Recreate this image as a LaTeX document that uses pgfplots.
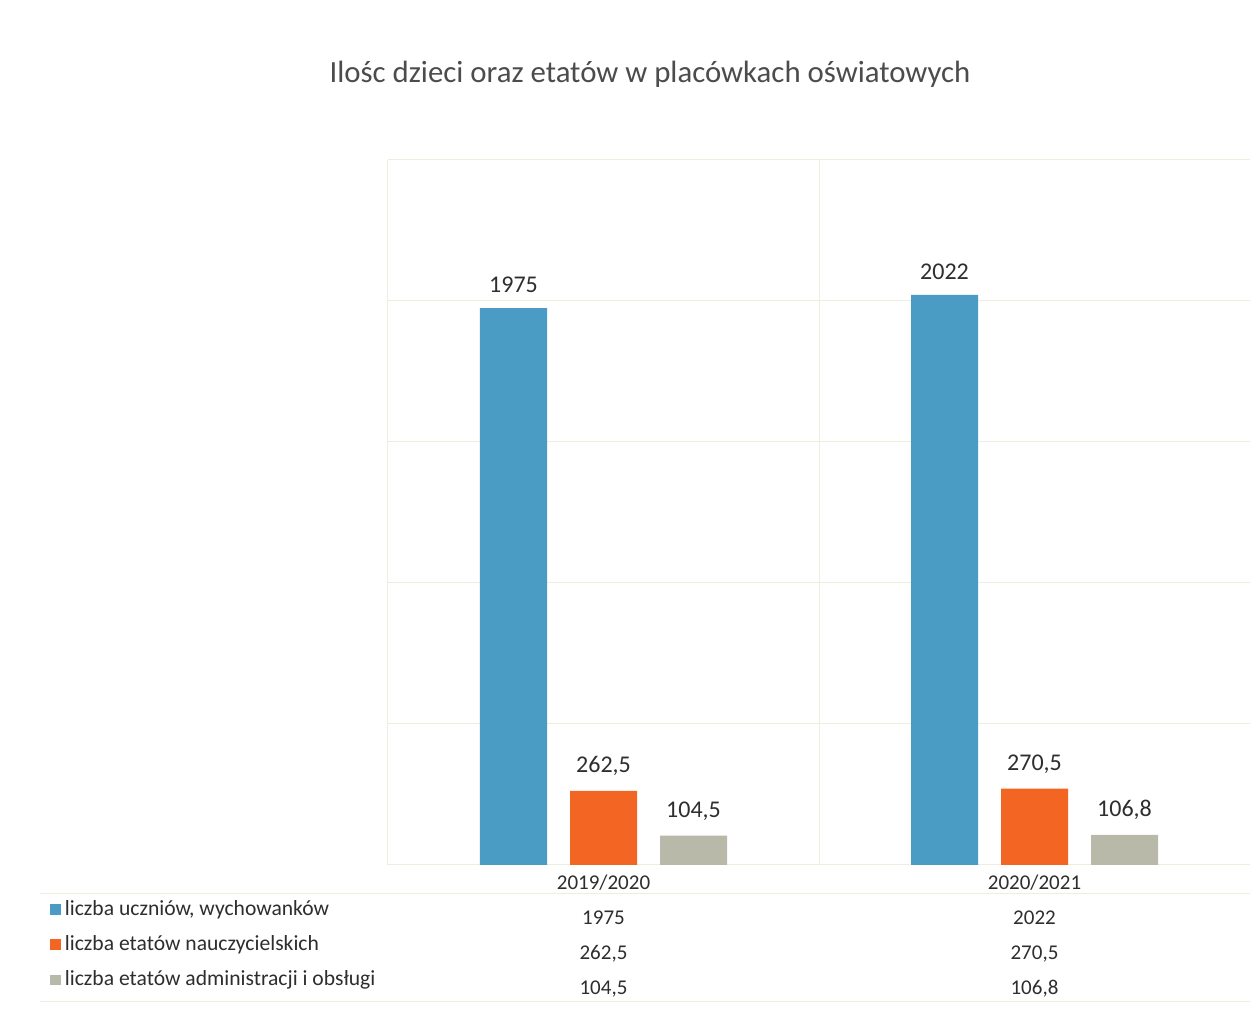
\documentclass[border=0pt]{standalone}
\usepackage{fontspec}
\setmainfont{Carlito}
\usepackage{pgfplots}
\pgfplotsset{compat=1.18}
\definecolor{cblue}{HTML}{4A9CC4}
\definecolor{corange}{HTML}{F26522}
\definecolor{cgray}{HTML}{B9B9A9}
\definecolor{gridc}{HTML}{EDEDE0}
\definecolor{txt}{HTML}{2E2E2E}
\begin{document}
\begin{tikzpicture}[x=1pt,y=1pt]
\path[use as bounding box, fill=white] (0,0) rectangle (630,511);
\node[font=\fontsize{15.4}{18}\selectfont, text=black!70, anchor=center] at (325,474) {Ilośc dzieci oraz etatów w placówkach oświatowych};
\draw[gridc, line width=0.5pt] (20,64) -- (625,64);
\draw[gridc, line width=0.5pt] (20,10) -- (625,10);
\begin{axis}[
  at={(194pt,78.5pt)}, anchor=south west, scale only axis,
  width=431pt, height=352.5pt,
  ymin=0, ymax=2500, xmin=-0.5, xmax=1.5,
  ybar=11.5pt, bar width=33.5pt,
  ytick={0,500,...,2500}, yticklabels={},
  xtick={0,1},
  xticklabels={{2019/2020\\1975\\262,5\\104,5},{2020/2021\\2022\\270,5\\106,8}},
  xticklabel style={align=center, font=\fontsize{10.5}{17.5}\selectfont, text=txt, yshift=-1.5pt},
  extra x ticks={-0.5,0.5}, extra x tick labels={},
  extra x tick style={grid=major, major grid style={gridc, line width=0.5pt}},
  major tick length=0pt,
  ymajorgrids, grid style={gridc, line width=0.5pt},
  axis line style={draw=none},
  nodes near coords,
  every node near coord/.append style={font=\fontsize{12}{14}\selectfont, text=txt, yshift=4pt},
  /pgf/number format/.cd, use comma, fixed, precision=1, 1000 sep={}, assume math mode=true,
  /pgfplots/.cd,
  legend style={at={(axis description cs:-0.392,-0.044)}, anchor=north west, draw=none, fill=none,
    font=\fontsize{10.8}{13}\selectfont, text=txt, row sep=4.6pt, inner sep=0pt,
    /tikz/every even column/.append style={column sep=3pt}},
  legend cell align=left,
  legend image code/.code={\path[#1,draw=none] (0pt,-2.6pt) rectangle (5.2pt,2.6pt);},
]
\addplot[fill=cblue, draw=none] coordinates {(0,1975) (1,2022)};
\addplot[fill=corange, draw=none] coordinates {(0,262.5) (1,270.5)};
\addplot[fill=cgray, draw=none] coordinates {(0,104.5) (1,106.8)};
\legend{{liczba uczniów, wychowanków}, {liczba etatów nauczycielskich}, {liczba etatów administracji i obsługi}}
\end{axis}
\end{tikzpicture}
\end{document}
